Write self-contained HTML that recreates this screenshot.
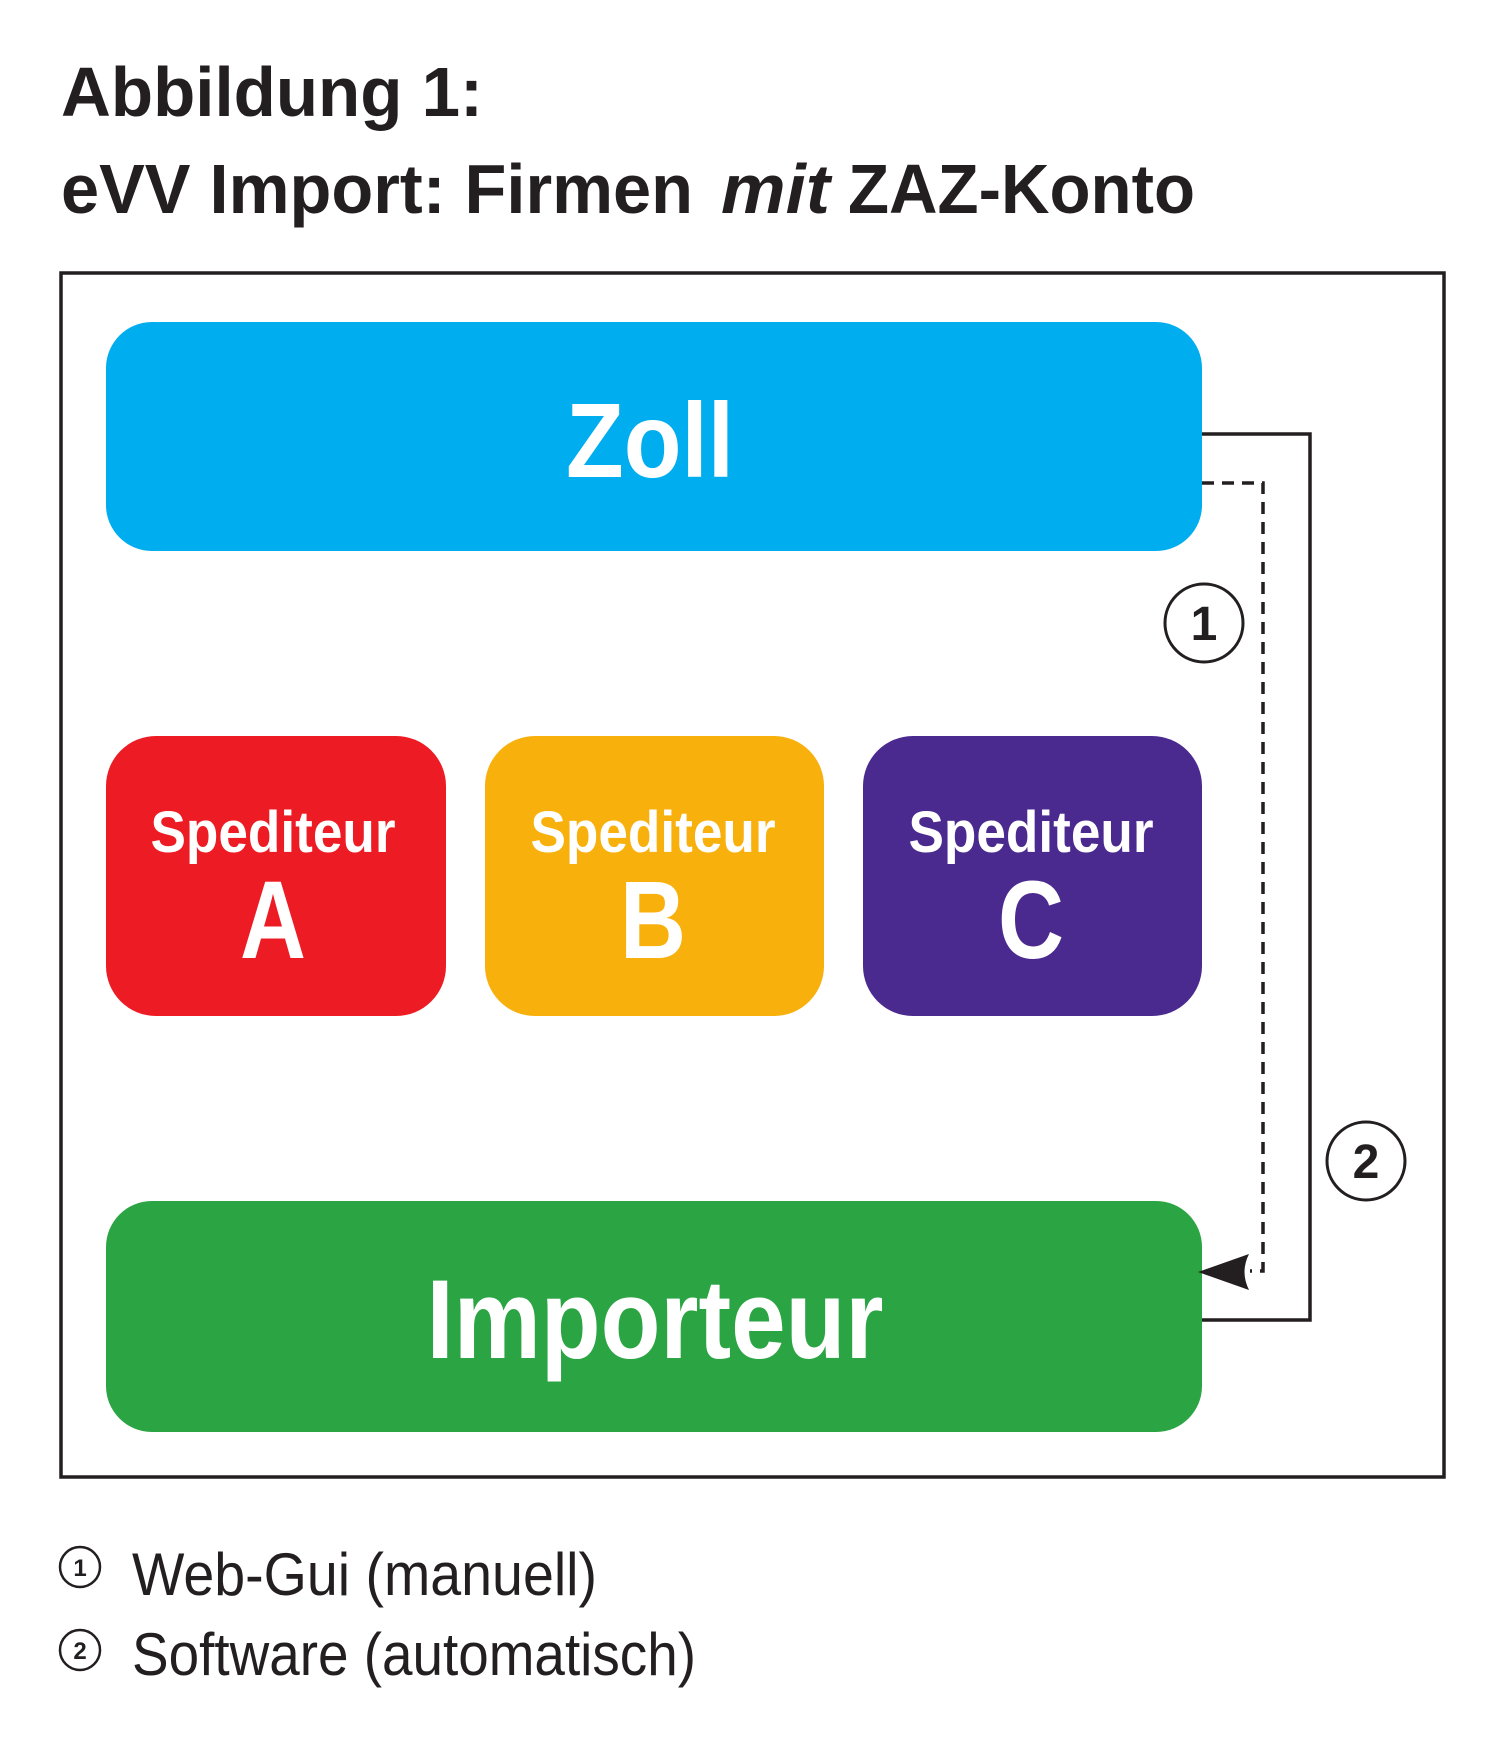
<!DOCTYPE html>
<html><head><meta charset="utf-8"><style>
html,body{margin:0;padding:0;background:#fff;}
svg{display:block;}
text{font-family:"Liberation Sans",sans-serif;}
</style></head><body>
<svg width="1508" height="1741" viewBox="0 0 1508 1741" xmlns="http://www.w3.org/2000/svg">
<g fill="#231f20" font-weight="bold">
<text x="61" y="116" font-size="70" textLength="422" lengthAdjust="spacingAndGlyphs">Abbildung 1:</text>
<text x="61" y="213" font-size="70" textLength="632" lengthAdjust="spacingAndGlyphs">eVV Import: Firmen</text>
<text x="721" y="213" font-size="70" font-style="italic" textLength="109" lengthAdjust="spacingAndGlyphs">mit</text>
<text x="848" y="213" font-size="70" textLength="347" lengthAdjust="spacingAndGlyphs">ZAZ-Konto</text>
</g>
<rect x="61" y="273" width="1383" height="1204" fill="none" stroke="#231f20" stroke-width="3.5"/>
<rect x="106" y="322" width="1096" height="229" rx="46" fill="#00adef"/>
<rect x="106" y="736" width="340" height="280" rx="50" fill="#ed1c24"/>
<rect x="485" y="736" width="339" height="280" rx="50" fill="#f8b00d"/>
<rect x="863" y="736" width="339" height="280" rx="50" fill="#4b2a8f"/>
<rect x="106" y="1201" width="1096" height="231" rx="46" fill="#2ba443"/>
<g fill="#fff" font-weight="bold" text-anchor="middle">
<text x="650" y="477" font-size="106" textLength="168" lengthAdjust="spacingAndGlyphs">Zoll</text>
<text x="273" y="852" font-size="58" textLength="245" lengthAdjust="spacingAndGlyphs">Spediteur</text>
<text x="653" y="852" font-size="58" textLength="245" lengthAdjust="spacingAndGlyphs">Spediteur</text>
<text x="1031" y="852" font-size="58" textLength="245" lengthAdjust="spacingAndGlyphs">Spediteur</text>
<text x="273" y="958" font-size="110" textLength="66" lengthAdjust="spacingAndGlyphs">A</text>
<text x="653" y="958" font-size="110" textLength="66" lengthAdjust="spacingAndGlyphs">B</text>
<text x="1031" y="958" font-size="110" textLength="66" lengthAdjust="spacingAndGlyphs">C</text>
<text x="655" y="1358" font-size="112" textLength="457" lengthAdjust="spacingAndGlyphs">Importeur</text>
</g>
<polyline points="1202,434 1310,434 1310,1320 1202,1320" fill="none" stroke="#231f20" stroke-width="3.5"/>
<polyline points="1202,483 1263,483 1263,1271 1250,1271" fill="none" stroke="#231f20" stroke-width="3.5" stroke-dasharray="12,8"/>
<path d="M1198,1272 L1249,1254 Q1240,1272 1249,1290 Z" fill="#231f20"/>
<g fill="#fff" stroke="#231f20" stroke-width="3">
<circle cx="1204" cy="623" r="39"/>
<circle cx="1366" cy="1161" r="39"/>
<circle cx="80" cy="1567" r="20" stroke-width="2.5"/>
<circle cx="80" cy="1650" r="20" stroke-width="2.5"/>
</g>
<g fill="#231f20" font-weight="bold" text-anchor="middle">
<text x="1204" y="640" font-size="48">1</text>
<text x="1366" y="1178" font-size="48">2</text>
<text x="80" y="1576" font-size="24">1</text>
<text x="80" y="1659" font-size="24">2</text>
</g>
<g fill="#231f20" font-size="60">
<text x="132" y="1595" textLength="465" lengthAdjust="spacingAndGlyphs">Web-Gui (manuell)</text>
<text x="132" y="1675" textLength="564" lengthAdjust="spacingAndGlyphs">Software (automatisch)</text>
</g>
</svg>
</body></html>
